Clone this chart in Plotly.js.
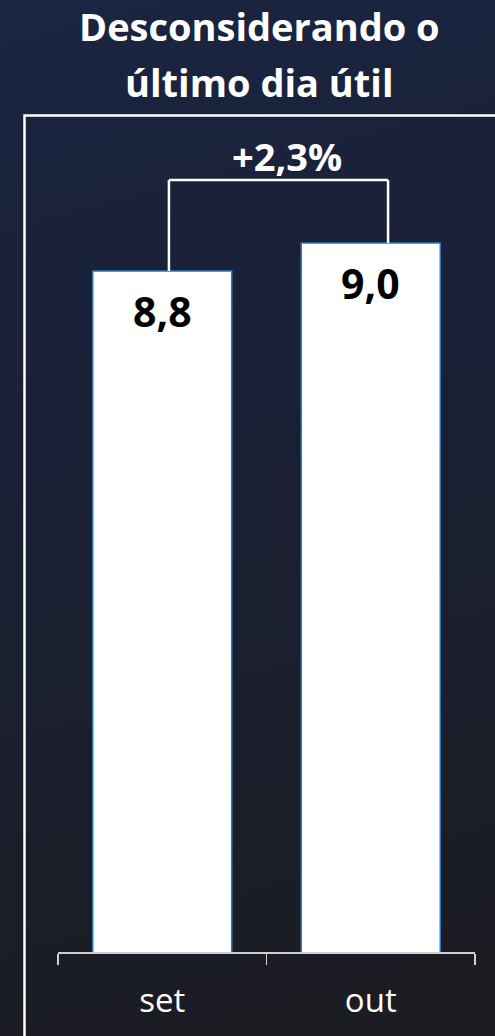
<!DOCTYPE html>
<html>
<head>
<meta charset="utf-8">
<script src="https://cdn.plot.ly/plotly-3.0.1.min.js"></script>
<style>
html,body{margin:0;padding:0;width:495px;height:1036px;overflow:hidden;}
body{background:linear-gradient(165deg,#1a2541 0%,#1a2034 45%,#1c1c20 100%);}
#chart{width:495px;height:1036px;}
</style>
</head>
<body>
<div id="chart"></div>
<script>
const categories = ["set", "out"];
const values = [8.8, 9.0];
const valueLabels = ["8,8", "9,0"];
const titleLines = ["Desconsiderando o", "último dia útil"];

const yMin = 3.936, yMax = 9.914;
const plotTop = 115, plotBottom = 952, plotH = plotBottom - plotTop;
const plotLeft = 58, plotRight = 475, plotW = plotRight - plotLeft;
const py = p => 1 + (plotTop - p) / plotH;   // pixel -> paper y
const px = p => (p - plotLeft) / plotW;      // pixel -> paper x

const pct = (values[1] / values[0] - 1) * 100;
const pctText = (pct >= 0 ? "+" : "") + pct.toFixed(1).replace(".", ",") + "%";
const bracketTop = Math.max(...values) * 1.05;
const bx0 = 0.032, bx1 = 1.083;

const trace = {
  type: "bar",
  x: categories,
  y: values,
  marker: {color: "#ffffff", line: {color: "#2e75b6", width: 1.5}},
  hoverinfo: "skip"
};

const annotations = [];
values.forEach((v, i) => {
  annotations.push({
    x: i, y: v, xref: "x", yref: "y",
    text: "<b>" + valueLabels[i] + "</b>", showarrow: false,
    yanchor: "top", yshift: -10,
    font: {family: "Open Sans", size: 41, color: "#000000"}
  });
});
annotations.push({
  x: 0.6, y: bracketTop, xref: "x", yref: "y",
  text: "<b>" + pctText + "</b>", showarrow: false,
  yanchor: "bottom", yshift: -4,
  font: {family: "Open Sans", size: 38, color: "#ffffff"}
});
titleLines.forEach((t, i) => {
  annotations.push({
    x: px(259), y: py(i === 0 ? 26 : 82), xref: "paper", yref: "paper",
    text: "<b>" + t + "</b>", showarrow: false,
    xanchor: "center", yanchor: "middle",
    font: {family: "Open Sans", size: 38, color: "#ffffff"}
  });
});

const white = {color: "#ffffff", width: 2.5};
const shapes = [
  {type: "rect", xref: "paper", yref: "paper",
   x0: px(24.5), x1: px(520), y0: py(1060), y1: py(115.5),
   line: {color: "#ffffff", width: 2.5}, fillcolor: "rgba(0,0,0,0)", layer: "below"},
  {type: "line", xref: "x", yref: "y", x0: bx0, x1: bx0, y0: values[0], y1: bracketTop, line: white},
  {type: "line", xref: "x", yref: "y", x0: bx0, x1: bx1, y0: bracketTop, y1: bracketTop, line: white},
  {type: "line", xref: "x", yref: "y", x0: bx1, x1: bx1, y0: bracketTop, y1: values[1], line: white}
];

const layout = {
  width: 495, height: 1036,
  margin: {l: plotLeft, r: 495 - plotRight, t: plotTop, b: 1036 - plotBottom, pad: 0},
  paper_bgcolor: "rgba(0,0,0,0)",
  plot_bgcolor: "rgba(0,0,0,0)",
  showlegend: false,
  bargap: 0.333,
  xaxis: {
    type: "category", range: [-0.5, 1.5],
    showline: true, linecolor: "#d0d0d0", linewidth: 1.5,
    ticks: "outside", tickson: "boundaries", ticklen: 11, tickwidth: 1.5, tickcolor: "#d0d0d0",
    tickfont: {family: "Open Sans", size: 33, color: "#ffffff"},
    ticklabelstandoff: 19,
    showgrid: false, zeroline: false, fixedrange: true
  },
  yaxis: {
    range: [yMin, yMax], visible: false, showgrid: false, zeroline: false, fixedrange: true
  },
  annotations: annotations,
  shapes: shapes
};

Plotly.newPlot("chart", [trace], layout, {displayModeBar: false, staticPlot: true});
</script>
</body>
</html>
